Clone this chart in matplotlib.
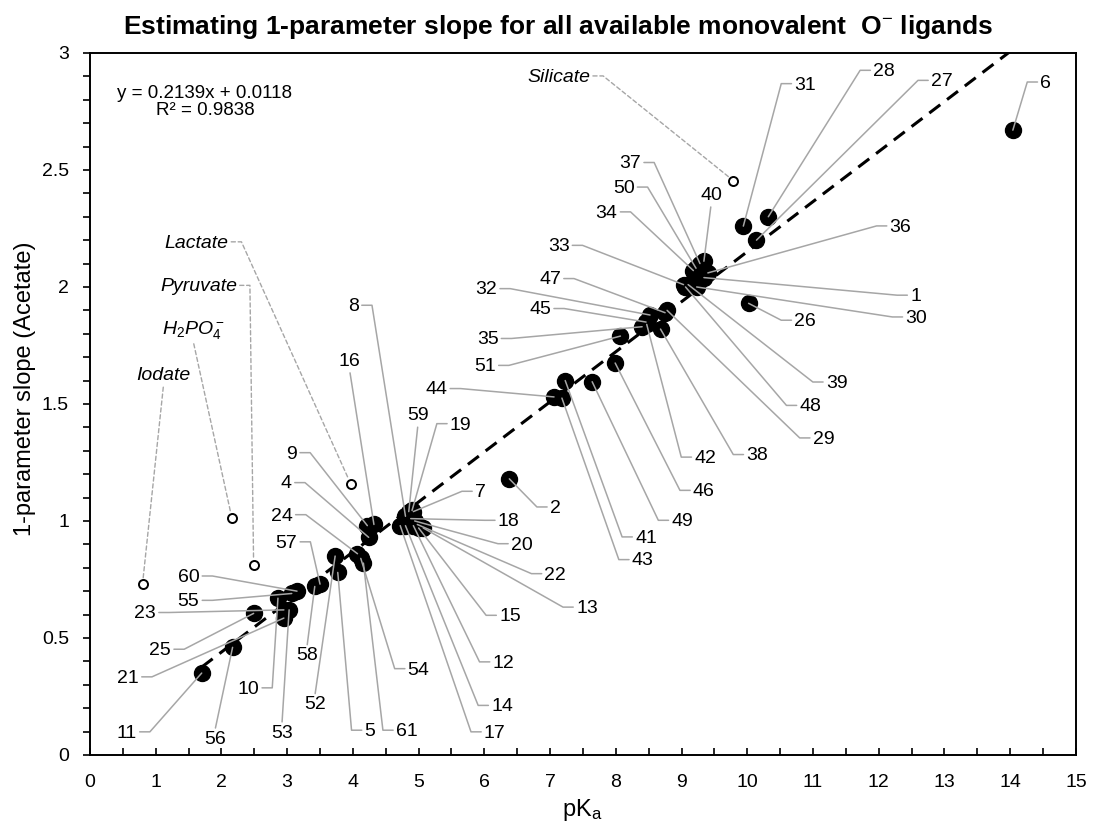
import numpy as np
import matplotlib
matplotlib.use('Agg')
import matplotlib.pyplot as plt
from matplotlib.ticker import MultipleLocator

plt.rcParams['font.family'] = ['Liberation Sans', 'DejaVu Sans']
plt.rcParams['mathtext.fontset'] = 'custom'
plt.rcParams['mathtext.rm'] = 'Liberation Sans'
plt.rcParams['mathtext.it'] = 'Liberation Sans:italic'
plt.rcParams['mathtext.bf'] = 'Liberation Sans:bold'

# ligands used in the fit
ligand_ids = [1, 2, 4, 5, 6, 7, 8, 9, 10, 11, 12, 13, 14, 15, 16, 17, 18, 19, 20,
              21, 22, 23, 24, 25, 26, 27, 28, 29, 30, 31, 32, 33, 34, 35, 36, 37,
              38, 39, 40, 41, 42, 43, 44, 45, 46, 47, 48, 49, 50, 51, 52, 53, 54,
              55, 56, 57, 58, 59, 60, 61]
pka = [9.34, 6.38, 4.24, 3.77, 14.04, 4.92, 4.80, 4.22, 2.86, 1.70, 4.92, 5.07,
       4.80, 5.00, 4.32, 4.72, 4.88, 4.90, 4.94, 2.95, 4.98, 2.95, 4.07, 2.49,
       10.02, 10.14, 10.32, 8.78, 9.23, 9.94, 8.52, 9.03, 9.18, 8.40, 9.40, 9.28,
       8.68, 9.10, 9.34, 7.23, 8.47, 7.18, 7.06, 8.46, 7.99, 8.75, 9.06, 7.64,
       9.22, 8.07, 3.73, 3.03, 4.12, 3.07, 2.17, 3.50, 3.42, 4.85, 3.15, 4.16]
slope = [2.04, 1.18, 0.93, 0.78, 2.67, 1.04, 1.02, 0.98, 0.67, 0.35, 0.98, 0.97,
         0.98, 0.97, 0.985, 0.98, 1.01, 1.045, 1.00, 0.585, 0.985, 0.62, 0.86, 0.605,
         1.93, 2.20, 2.30, 1.90, 2.00, 2.26, 1.88, 2.01, 2.07, 1.83, 2.06, 2.10,
         1.82, 2.01, 2.11, 1.60, 1.84, 1.525, 1.53, 1.85, 1.675, 1.89, 2.00, 1.595,
         2.08, 1.79, 0.85, 0.62, 0.84, 0.69, 0.46, 0.73, 0.72, 1.04, 0.70, 0.82]

# ligands left out of the fit
named = ['Lactate', 'Pyruvate', r'$\mathit{H_2PO_4^-}$', 'Iodate', 'Silicate']
named_pka = [3.97, 2.49, 2.16, 0.80, 9.79]
named_slope = [1.157, 0.812, 1.011, 0.731, 2.454]

fit_m = 0.2139
fit_b = 0.0118
fit_r2 = 0.9838

# label placement: id -> (x, y, side the leader leaves from)
label_pos = {
    1: (12.56, 1.959, 'L'), 2: (7.08, 1.054, 'L'), 4: (2.99, 1.158, 'R'),
    5: (4.26, 0.10, 'L'), 6: (14.54, 2.870, 'L'), 7: (5.94, 1.121, 'L'),
    8: (4.01, 1.916, 'R'), 9: (3.07, 1.286, 'R'), 10: (2.41, 0.281, 'R'),
    11: (0.56, 0.093, 'R'), 12: (6.29, 0.392, 'L'), 13: (7.56, 0.626, 'L'),
    14: (6.27, 0.206, 'L'), 15: (6.39, 0.591, 'L'), 16: (3.95, 1.681, 'B'),
    17: (6.16, 0.093, 'L'), 18: (6.37, 0.997, 'L'), 19: (5.64, 1.410, 'L'),
    20: (6.57, 0.897, 'L'), 21: (0.58, 0.328, 'R'), 22: (7.08, 0.769, 'L'),
    23: (0.84, 0.603, 'R'), 24: (2.92, 1.021, 'R'), 25: (1.07, 0.446, 'R'),
    26: (10.88, 1.852, 'L'), 27: (12.96, 2.877, 'L'), 28: (12.08, 2.920, 'L'),
    29: (11.16, 1.349, 'L'), 30: (12.57, 1.866, 'L'), 31: (10.88, 2.863, 'L'),
    32: (6.03, 1.987, 'R'), 33: (7.13, 2.172, 'R'), 34: (7.86, 2.315, 'R'),
    35: (6.05, 1.774, 'R'), 36: (12.33, 2.255, 'L'), 37: (8.22, 2.526, 'R'),
    38: (10.15, 1.278, 'L'), 39: (11.36, 1.588, 'L'), 40: (9.45, 2.390, 'B'),
    41: (8.46, 0.926, 'L'), 42: (9.36, 1.267, 'L'), 43: (8.41, 0.829, 'L'),
    44: (5.27, 1.560, 'R'), 45: (6.85, 1.902, 'R'), 46: (9.34, 1.125, 'L'),
    47: (7.00, 2.030, 'R'), 48: (10.96, 1.488, 'L'), 49: (9.01, 0.997, 'L'),
    50: (8.12, 2.421, 'R'), 51: (6.01, 1.659, 'R'), 52: (3.42, 0.214, 'T'),
    53: (2.92, 0.093, 'T'), 54: (5.00, 0.363, 'L'), 55: (1.50, 0.655, 'R'),
    56: (1.90, 0.067, 'T'), 57: (2.99, 0.905, 'R'), 58: (3.30, 0.423, 'T'),
    59: (4.99, 1.449, 'B'), 60: (1.50, 0.759, 'R'), 61: (4.82, 0.100, 'L'),
}
named_pos = [(1.62, 2.187, 'R'), (1.65, 2.001, 'R'), (1.57, 1.816, 'B'),
             (1.12, 1.620, 'B'), (7.13, 2.896, 'R')]

leader = {
    'R': ((1, 0.58), 'arc,angleA=0,armA=13,angleB=0,armB=0'),
    'L': ((0, 0.58), 'arc,angleA=180,armA=13,angleB=0,armB=0'),
    'T': ((0.5, 1), 'arc3'),
    'B': ((0.5, 0), 'arc3'),
}
grey = '#a6a6a6'

fig = plt.figure(figsize=(10.93, 8.26), dpi=100)
ax = fig.add_axes([0.0823, 0.0860, 0.9021, 0.8499])

ax.plot(pka, slope, 'o', color='black', ms=11.5, zorder=3)
ax.plot(named_pka, named_slope, 'o', mfc='white', mec='black', ms=6.5, mew=1.4, zorder=3)

xt = np.array([min(pka), max(pka)])
ax.plot(xt, fit_m * xt + fit_b, color='black', lw=2.2, dashes=(4.5, 2.8), zorder=4)

for i, x, y in zip(ligand_ids, pka, slope):
    tx, ty, side = label_pos[i]
    rel, conn = leader[side]
    ax.annotate(str(i), xy=(x, y), xytext=(tx, ty), ha='center', va='center',
                fontsize=14, zorder=5,
                arrowprops=dict(arrowstyle='-', color=grey, lw=1.1, relpos=rel,
                                connectionstyle=conn, shrinkA=0, shrinkB=0))

for name, x, y, (tx, ty, side) in zip(named, named_pka, named_slope, named_pos):
    rel, conn = leader[side]
    ax.annotate(name, xy=(x, y), xytext=(tx, ty), ha='center', va='center',
                fontsize=14, style='italic', zorder=5,
                arrowprops=dict(arrowstyle='-', color=grey, lw=1.0, ls=(0, (3, 2)),
                                relpos=rel, connectionstyle=conn, shrinkA=0, shrinkB=4))

ax.text(0.1166, 0.93, 'y = %.4fx + %.4f\nR² = %.4f' % (fit_m, fit_b, fit_r2),
        transform=ax.transAxes, ha='center', va='center', fontsize=13.5,
        multialignment='center', linespacing=1.0)

ax.set_xlim(0, 15)
ax.set_ylim(0, 3)
ax.xaxis.set_major_locator(MultipleLocator(1))
ax.xaxis.set_minor_locator(MultipleLocator(0.5))
ax.yaxis.set_major_locator(MultipleLocator(0.5))
ax.yaxis.set_minor_locator(MultipleLocator(0.1))
ax.yaxis.set_major_formatter(plt.FuncFormatter(lambda v, p: '%g' % v))
ax.tick_params(axis='x', which='both', direction='in', length=5, width=1.2,
               labelsize=14, pad=14)
ax.tick_params(axis='y', which='both', direction='out', length=5, width=1.2,
               labelsize=14, pad=10)
for s in ax.spines.values():
    s.set_linewidth(1.4)

fig.text(0.511, 0.967, 'Estimating 1-parameter slope for all available monovalent  O$^{-}$ ligands',
         ha='center', va='center', fontsize=19, fontweight='bold')
fig.text(0.023, 0.529, '1-parameter slope (Acetate)', rotation=90,
         ha='center', va='center', fontsize=17)
fig.text(0.533, 0.019, 'pK$_\\mathrm{a}$', ha='center', va='center', fontsize=17)

fig.savefig('out.png', dpi=100)
